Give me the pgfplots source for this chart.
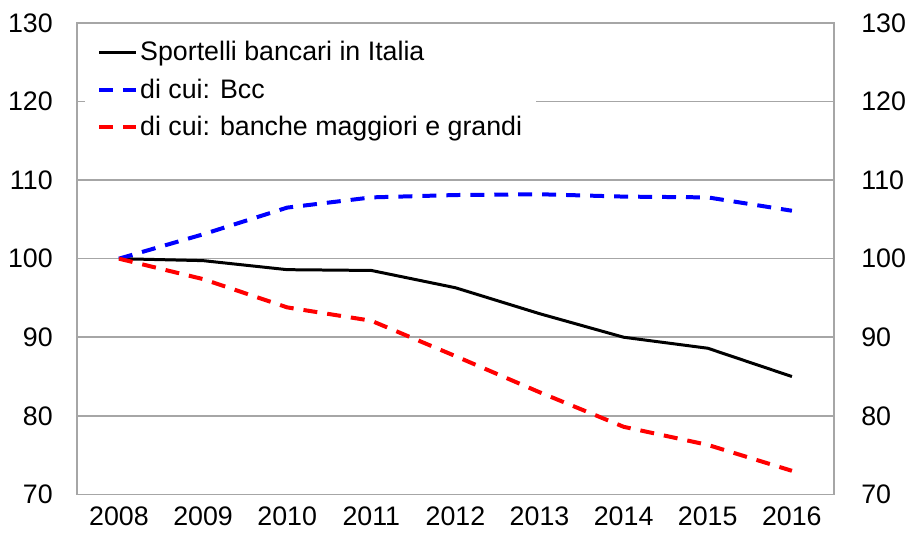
\documentclass[border=0pt]{standalone}
\usepackage{pgfplots}
\pgfplotsset{compat=1.18}
\usepackage{fontspec}
\setmainfont{Liberation Sans}
\definecolor{gridc}{HTML}{A6A6A6}
\definecolor{bccblue}{HTML}{0000FF}
\definecolor{bigred}{HTML}{FF0000}

\begin{document}
\begin{tikzpicture}
\pgfplotsset{
  every axis/.append style={
    scale only axis, width=379pt, height=236pt,
    xmin=2007.5, xmax=2016.5, ymin=70, ymax=130,
    ytick={70,80,...,130},
    tick style={draw=none},
    tick label style={font=\fontsize{13.4}{16}\selectfont, /pgf/number format/assume math mode=true},
    axis line style={gridc, line width=0.75pt},
  },
}
\begin{axis}[
  xtick={2008,...,2016},
  xticklabel style={/pgf/number format/1000 sep={}, yshift=-2.5pt},
  ymajorgrids, grid style={gridc, line width=0.75pt},
  yticklabel style={xshift=-8.6pt},
  legend style={draw=none, fill=white, at={(4pt,231pt)}, anchor=north west,
    font=\fontsize{13.4}{16}\selectfont, inner xsep=6pt, inner ysep=3pt, row sep=5.5pt,
    nodes={inner sep=1pt}},
  legend cell align=left,
  legend image code/.code={\draw[#1] (0pt,0pt) -- (18.5pt,0pt);},
]
\addplot[black, line width=1.5pt] coordinates {
  (2008,100) (2009,99.75) (2010,98.6) (2011,98.5) (2012,96.3)
  (2013,93.0) (2014,90.0) (2015,88.6) (2016,85.0)};
\addlegendentry{Sportelli bancari in Italia}
\addplot[bccblue, line width=2pt, dash pattern=on 7pt off 5pt] coordinates {
  (2008,100) (2009,103.1) (2010,106.5) (2011,107.8) (2012,108.1)
  (2013,108.2) (2014,107.9) (2015,107.8) (2016,106.1)};
\addlegendentry{di cui: Bcc}
\addplot[bigred, line width=2pt, dash pattern=on 7pt off 5pt] coordinates {
  (2008,100) (2009,97.4) (2010,93.8) (2011,92.1) (2012,87.6)
  (2013,83.0) (2014,78.6) (2015,76.3) (2016,73.0)};
\addlegendentry{di cui: banche maggiori e grandi}
\end{axis}
\begin{axis}[
  axis y line*=right, axis x line=none,
  yticklabel style={xshift=13.5pt, inner xsep=0pt},
]
\end{axis}
\path (current axis.north) ++(0pt,11.5pt);
\path (current axis.west) ++(-38.5pt,0pt);
\end{tikzpicture}
\end{document}
